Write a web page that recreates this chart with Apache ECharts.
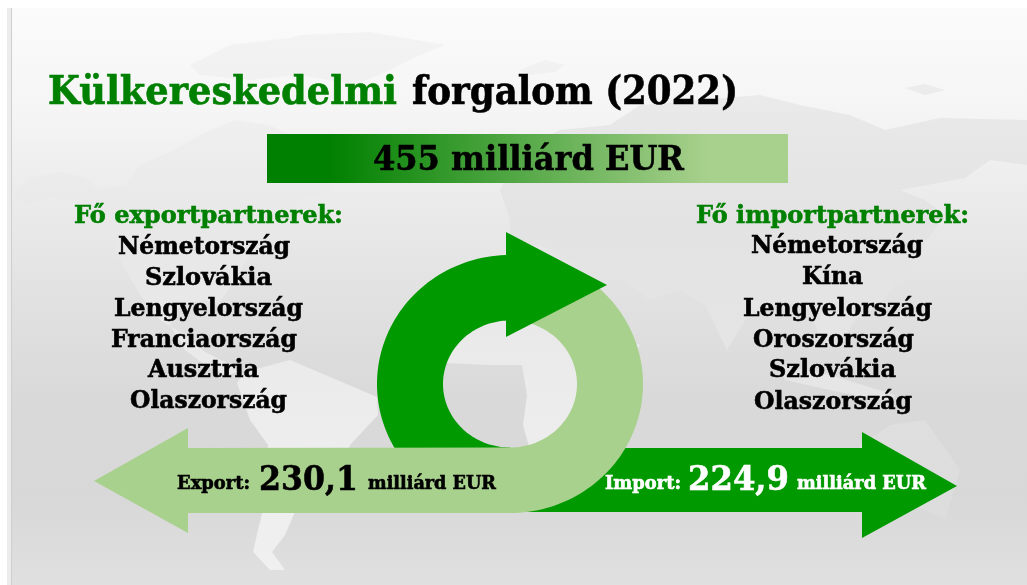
<!DOCTYPE html>
<html><head><meta charset="utf-8">
<style>html,body{margin:0;padding:0;background:#fff}#c{width:1027px;height:585px}</style>
<script src="https://cdn.jsdelivr.net/npm/echarts@6/dist/echarts.min.js"></script>
</head><body><div id="c"></div>
<script>
// ---- data ----
var titleParts = ['Külkereskedelmi', 'forgalom (2022)'];
var totalValue = 455;
var exportValue = 230.1;
var importValue = 224.9;
var unitLabel = 'milliárd EUR';
var exportHeader = 'Fő exportpartnerek:';
var importHeader = 'Fő importpartnerek:';
var exportPartners = ['Németország', 'Szlovákia', 'Lengyelország', 'Franciaország', 'Ausztria', 'Olaszország'];
var importPartners = ['Németország', 'Kína', 'Lengyelország', 'Oroszország', 'Szlovákia', 'Olaszország'];

// ---- layout (left edge, right edge, baseline) ----
var exportRows = [[118,290,254],[145,272,285],[114,303,316],[111,297,347],[148,259,377],[130,287,408]];
var importRows = [[751,923,253],[802,863,284],[743,932,316],[753,914,347],[769,896,377],[754,912,409]];

var FONT = '"DejaVu Serif"';
var ctx = document.createElement('canvas').getContext('2d');
function txt(s, x0, x1, base, size, fill) {
  var font = 'bold ' + size + 'px ' + FONT;
  ctx.font = font;
  var w = ctx.measureText(s).width;
  return {type:'text', x:x0, y:base - 0.26*size, scaleX:(x1-x0)/w, silent:true,
    style:{text:s, font:font, fill:fill, stroke:fill, lineWidth:0.6, align:'left', verticalAlign:'middle'}};
}
function fmt(v){ return v.toFixed(1).replace('.', ','); }
function parsePts(str){ return str.trim().split(/\s+/).map(function(q){return q.split(',').map(Number);}); }
function poly(pts, fill){
  return {type:'polygon', silent:true, shape:{points: typeof pts === 'string' ? parsePts(pts) : pts}, style:{fill:fill}};
}
// points along an ellipse around the ring centre, angles in degrees, screen orientation
var RCX = 510, RCY = 384;
function arc(rx, ry, a0, a1){
  var out = [], n = 90;
  for (var i = 0; i <= n; i++){
    var a = (a0 + (a1-a0)*i/n) * Math.PI/180;
    out.push([RCX + rx*Math.cos(a), RCY + ry*Math.sin(a)]);
  }
  return out;
}
function grad(stops){
  return {type:'linear', x:0, y:0, x2:0, y2:585, global:true,
    colorStops:stops.map(function(s){return {offset:s[0]/585, color:s[1]};})};
}
var oceanFill = grad([[8,'#fbfbfb'],[110,'#f5f5f5'],[200,'#ebebeb'],[300,'#e1e1e1'],[400,'#d9d9d9'],[500,'#d8d8d8'],[585,'#e0e0e0']]);
var westFill = grad([[30,'#f3f3f3'],[120,'#efefef'],[220,'#e8e8e8'],[300,'#e8e8e8'],[400,'#ececec'],[585,'#f0f0f0']]);
var eastFill = grad([[30,'#f2f2f2'],[120,'#e8e8e8'],[220,'#e3e3e3'],[300,'#e4e4e4'],[400,'#e6e6e6'],[585,'#ececec']]);
var farFill = grad([[400,'#dfdfdf'],[540,'#dcdcdc']]);

var GREEN='#009900', LIGHT='#a9d18e', TITLE='#008000';
var els = [];
els.push({type:'rect', silent:true, shape:{x:7,y:8,width:1020,height:577}, style:{fill:oceanFill}});
els.push({type:'rect', silent:true, shape:{x:7,y:8,width:4,height:577}, style:{fill:'#ececec'}});
els.push({type:'rect', silent:true, shape:{x:11,y:8,width:1,height:577}, style:{fill:'#cfcfcf'}});
// faint world map backdrop
[
 '14,195 30,178 60,172 85,178 100,190 125,185 140,165 175,150 200,135 235,120 270,125 300,140 320,170 330,190 300,200 285,225 262,240 245,262 232,285 218,305 205,300 180,305 170,325 185,350 205,365 225,375 240,372 225,362 205,352 185,335 160,320 140,295 120,260 105,225 80,200 50,198 25,205',
 '190,65 230,45 290,38 300,35 370,32 445,45 420,55 390,70 355,85 300,75 250,80 200,75',
 '237,383 245,372 290,360 330,377 377,397 378,415 350,445 340,480 295,512 285,535 272,552 285,570 270,570 253,552 258,530 264,505 268,445 250,420',
 '432,360 445,363 490,365 522,365 527,395 523,425 530,450 560,490 585,460 610,400 640,345 625,340 600,300 540,285 480,290 440,320',
 '520,70 545,60 565,65 555,72 530,75'
].forEach(function(s){ els.push(poly(s, westFill)); });
[
 '510,220 500,190 520,150 560,130 610,125 640,105 700,100 760,95 800,105 850,115 885,130 940,118 1027,120 1027,165 990,160 965,178 900,190 925,200 945,215 920,250 905,270 880,305 855,320 840,345 820,340 810,310 780,300 745,320 727,350 705,305 680,290 650,300 625,280 600,270 570,260 540,245 510,245',
 '905,88 925,84 945,90 925,95',
 '780,365 830,375 895,395 890,402 830,390 785,380'
].forEach(function(s){ els.push(poly(s, eastFill)); });
els.push(poly('860,445 890,425 925,420 960,470 945,520 915,505 880,498 860,500', farFill));

// import arrow (under the ring)
els.push(poly('510,448 862,448 862,432 957,486 862,538 862,512 510,512', GREEN));
// dark half of the ring (top, round the left, to the bottom)
els.push(poly(arc(133,129,-90,-270).concat(arc(67,63.5,-270,-90)), GREEN));
// light half of the ring plus export arrow
els.push(poly(
  parsePts('188,448 188,428 94,481 188,533 188,513')
    .concat(arc(133,129,90,-90))
    .concat(arc(67,63.5,-90,90)), LIGHT));
// ring arrow head
els.push(poly('506,232 607,285 506,337', GREEN));
// total banner
els.push({type:'rect', silent:true, shape:{x:267,y:134,width:521,height:49},
  style:{fill:{type:'linear',x:0,y:0,x2:1,y2:0,colorStops:[{offset:0,color:'#008000'},{offset:0.12,color:'#008000'},{offset:0.85,color:LIGHT},{offset:1,color:LIGHT}]}}});

// texts
els.push(txt(titleParts[0],48,397,104,39,TITLE));
els.push(txt(titleParts[1],412,738,104,39,'#000'));
els.push(txt(totalValue + ' ' + unitLabel,373,684,170,34,'#000'));
els.push(txt(exportHeader,74,343,223,25,TITLE));
els.push(txt(importHeader,696,969,223,25,TITLE));
exportPartners.forEach(function(s,i){ var r=exportRows[i]; els.push(txt(s,r[0],r[1],r[2],25,'#000')); });
importPartners.forEach(function(s,i){ var r=importRows[i]; els.push(txt(s,r[0],r[1],r[2],25,'#000')); });
els.push(txt('Export:',177,250,489,18,'#000'));
els.push(txt(fmt(exportValue),259,358,490,34,'#000'));
els.push(txt(unitLabel,368,496,489,18,'#000'));
els.push(txt('Import:',605,681,489,18,'#fff'));
els.push(txt(fmt(importValue),688,789,490,34,'#fff'));
els.push(txt(unitLabel,797,926,489,18,'#fff'));

var chart = echarts.init(document.getElementById('c'), null, {renderer:'canvas', width:1027, height:585});
chart.setOption({animation:false, backgroundColor:'#ffffff', graphic:{elements:els}});
</script></body></html>
